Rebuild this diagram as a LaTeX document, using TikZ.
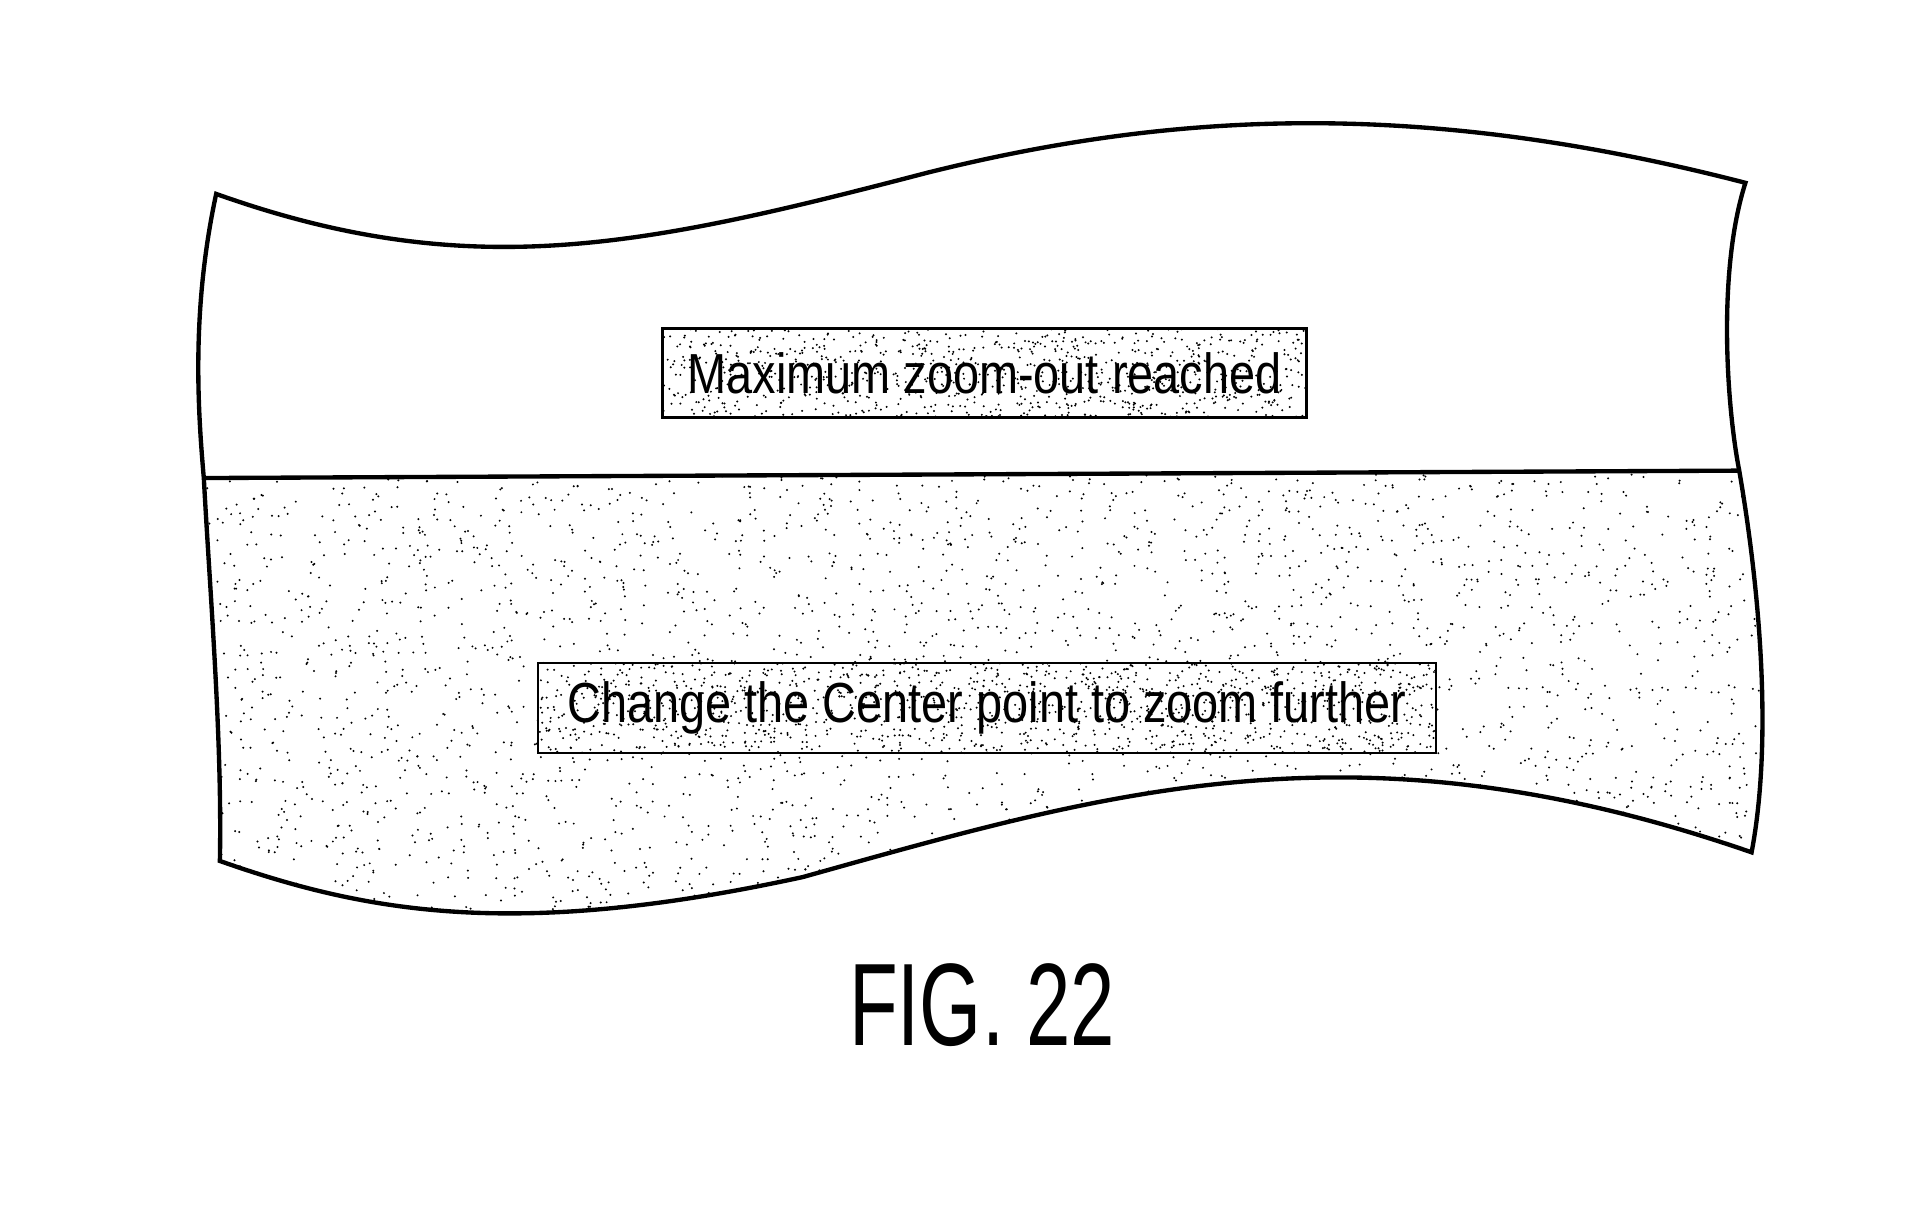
\documentclass[tikz,border=0pt]{standalone}
\usepackage{fontspec}
\setmainfont{Liberation Sans}
\usetikzlibrary{positioning}
\tikzset{
  msgbox/.style={draw, line width=0.5pt, inner xsep=2pt, inner ysep=4pt, font=\fontsize{13}{15}\selectfont},
  edge/.style={line width=1pt}
}
\newcommand{\narrow}[2][0.83]{\scalebox{#1}[1]{#2}}
\newcommand{\stipple}[5]{% n, x0, y0, w, h
  \foreach \k in {1,...,#1}{
    \pgfmathsetmacro{\px}{#2+rnd*#4}
    \pgfmathsetmacro{\py}{#3+rnd*#5}
    \fill (\px,\py) circle (0.9);
  }}
\begin{document}
\begin{tikzpicture}[x=0.01cm, y=-0.01cm]
  \useasboundingbox (0,0) rectangle (1560,997);
  \pgfmathsetseed{22}
  % lower stippled part
  \begin{scope}
    \clip (165,387) -- (1408,381) .. controls (1425,480) and (1435,600) .. (1418,690)
      .. controls (1100,580) and (900,640) .. (650,710)
      .. controls (420,760) and (300,740) .. (178,697)
      .. controls (180,600) and (170,480) .. (165,387) -- cycle;
    \stipple{3500}{150}{370}{1300}{400}
  \end{scope}
  % outline
  \draw[edge] (175,157) .. controls (380,230) and (520,200) .. (750,140)
    .. controls (950,90) and (1150,80) .. (1413,148)
    .. controls (1390,220) and (1398,330) .. (1408,381)
    .. controls (1425,480) and (1435,600) .. (1418,690)
    .. controls (1100,580) and (900,640) .. (650,710)
    .. controls (420,760) and (300,740) .. (178,697)
    .. controls (180,600) and (170,480) .. (165,387)
    .. controls (160,330) and (155,250) .. (175,157) -- cycle;
  \draw[edge] (165,387) -- (1408,381);
  % message boxes
  \fill[white] (537,266) rectangle (1058,338);
  \fill[white] (436,537) rectangle (1162,610);
  \begin{scope}
    \clip (537,266) rectangle (1058,338);
    \stipple{900}{537}{266}{521}{72}
  \end{scope}
  \begin{scope}
    \clip (436,537) rectangle (1162,610);
    \stipple{1300}{436}{537}{726}{73}
  \end{scope}
  \node[msgbox, minimum width=5.21cm, minimum height=0.72cm] (maxzoom) at (797,302) {\narrow{Maximum zoom-out reached}};
  \node[msgbox, minimum width=7.26cm, minimum height=0.73cm] (center) at (799,573) {\narrow{Change the Center point to zoom further}};
  \node[font=\fontsize{27}{31}\selectfont] (fig) at (795,814) {\narrow[0.68]{FIG. 22}};
\end{tikzpicture}
\end{document}
